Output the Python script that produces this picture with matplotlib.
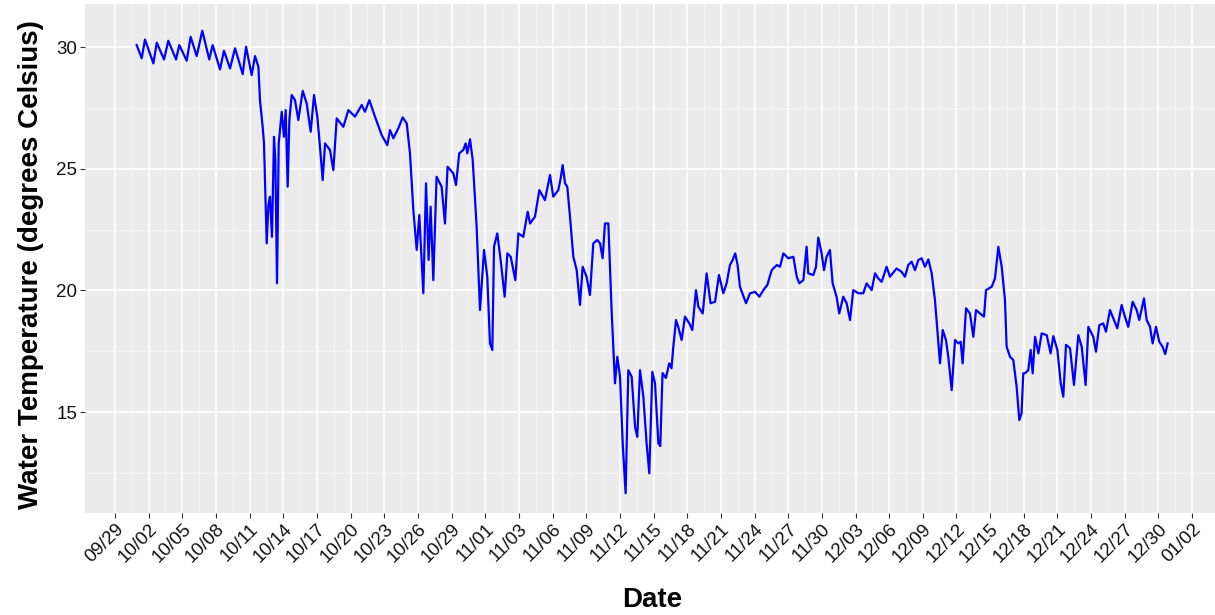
import matplotlib
matplotlib.use("Agg")
import matplotlib.pyplot as plt
import numpy as np

# Water temperature record: time in days after 09/29, temperature in degrees C
day = [
    1.93, 2.38, 2.67, 3.42, 3.72, 4.37, 4.75, 5.44, 5.73, 6.39, 6.74, 7.28, 7.78, 8.40,
    8.70, 9.36, 9.71, 10.25, 10.70, 11.38, 11.68, 12.18, 12.48, 12.78, 12.92, 13.16, 13.28,
    13.43, 13.52, 13.67, 13.81, 13.99, 14.17, 14.29, 14.44, 14.59, 14.86, 15.06, 15.21,
    15.39, 15.54, 15.75, 16.04, 16.34,
    16.73, 17.08, 17.44, 17.74, 18.03, 18.27, 18.51, 18.72, 19.16, 19.46, 19.76, 20.35,
    20.80, 21.39, 21.99, 22.28, 22.67, 23.17, 23.77, 24.27, 24.51, 24.81, 25.25, 25.64,
    26.00, 26.29, 26.59, 26.89, 27.12, 27.48, 27.72, 27.95, 28.13, 28.37, 28.66, 29.11,
    29.41, 29.64, 30.15, 30.39, 30.68, 31.04, 31.25, 31.40, 31.64, 31.88, 32.23,
    32.53, 32.89, 33.18, 33.42, 33.63, 33.78, 34.07, 34.37, 34.73, 34.97, 35.27, 35.50,
    35.68, 35.95, 36.39, 36.78, 36.99, 37.43, 37.82, 38.32, 38.77, 39.06, 39.51, 39.72,
    39.90, 40.11, 40.31, 40.55, 40.85, 41.15, 41.44, 41.68, 42.03, 42.33, 42.63, 42.98,
    43.23, 43.46, 43.67, 43.97, 44.26, 44.56, 44.77, 45.01, 45.25, 45.51, 45.75, 46.05,
    46.35, 46.55, 46.79, 47.09, 47.38, 47.62, 47.89, 48.13, 48.43, 48.60, 48.80, 49.10,
    49.40, 49.60,
    49.76, 50.00, 50.20, 50.50, 50.80, 51.19, 51.45, 51.78, 51.99, 52.38, 52.73, 53.08,
    53.48, 53.83, 54.22, 54.51, 54.81, 55.05, 55.28, 55.49, 55.70, 56.24, 56.60, 57.04,
    57.43, 57.79, 58.14, 58.53, 58.98, 59.27, 59.57, 60.01, 60.46, 60.76, 60.99, 61.35,
    61.64, 61.79, 62.24, 62.48, 62.68, 62.98, 63.19, 63.42, 63.72, 63.96, 64.31, 64.55,
    64.91, 65.21, 65.51, 65.80, 66.25,
    66.69, 66.99, 67.44, 67.74, 68.03, 68.33, 68.77, 69.07, 69.66, 70.11, 70.41, 70.70,
    71.00, 71.30, 71.60, 71.89, 72.19, 72.49, 72.79, 73.08, 73.32, 73.53, 73.77, 74.06,
    74.27, 74.57, 74.87, 75.16, 75.37, 75.55, 75.85, 76.20, 76.50, 76.74, 77.09, 77.45,
    77.63, 78.14, 78.43, 78.73, 79.03, 79.32, 79.47, 79.77, 80.06, 80.36, 80.60,
    80.80, 80.95, 81.10, 81.40, 81.61, 81.79, 82.00, 82.30, 82.59, 83.04, 83.39, 83.63,
    83.99, 84.29, 84.52, 84.76, 85.12, 85.47, 85.86, 86.16, 86.51, 86.75, 87.19, 87.43,
    87.73, 88.08, 88.32, 88.68, 88.97, 89.33, 89.72, 90.01, 90.31, 90.70, 91.06, 91.29,
    91.71, 91.95, 92.25, 92.48, 92.78, 93.07, 93.37, 93.60, 93.82,
]

temp = [
    30.08, 29.54, 30.31, 29.33, 30.18, 29.49, 30.26, 29.49, 30.08, 29.44, 30.42, 29.63, 30.67, 29.49,
    30.08, 29.08, 29.85, 29.12, 29.95, 28.89, 30.01, 28.85, 29.63, 29.19, 27.82, 26.72, 26.04,
    23.44, 21.93, 23.50, 23.85, 22.20, 26.31, 25.36, 20.29, 26.04, 27.34, 26.31, 27.41,
    24.26, 27.00, 28.03, 27.82, 27.00,
    28.20, 27.69, 26.52, 28.03, 27.14, 25.90, 24.53, 26.04, 25.77, 24.94, 27.07, 26.72,
    27.41, 27.14, 27.62, 27.34, 27.82, 27.14, 26.38, 25.97, 26.59, 26.25, 26.66, 27.11,
    26.86, 25.63, 23.30, 21.66, 23.10, 19.88, 24.40, 21.25, 23.44, 20.42, 24.67, 24.26,
    22.75, 25.08, 24.81, 24.33, 25.63, 25.77, 26.04, 25.63, 26.21, 25.36, 22.63,
    19.19, 21.66, 20.56, 17.82, 17.55, 21.79, 22.34, 21.25, 19.74, 21.52, 21.38, 20.83,
    20.42, 22.34, 22.20, 23.23, 22.75, 23.03, 24.12, 23.71, 24.74, 23.85, 24.12, 24.60,
    25.15, 24.40, 24.26, 23.03, 21.38, 20.83, 19.40, 20.97, 20.56, 19.81, 21.93, 22.07,
    21.93, 21.32, 22.75, 22.75, 19.19, 16.18, 17.27, 16.45, 13.71, 11.66, 16.72, 16.45,
    14.39, 13.98, 16.72, 15.63, 13.71, 12.48, 16.65, 16.18, 13.71, 13.60, 16.60, 16.40,
    17.00, 16.80,
    17.68, 18.78, 18.50, 17.96, 18.92, 18.64, 18.37, 20.01, 19.33, 19.05, 20.70, 19.47,
    19.53, 20.63, 19.88, 20.29, 21.04, 21.25, 21.52, 21.04, 20.15, 19.47, 19.88, 19.94,
    19.74, 20.01, 20.22, 20.83, 21.04, 20.97, 21.52, 21.32, 21.38, 20.56, 20.29, 20.42,
    21.79, 20.70, 20.63, 20.97, 22.17, 21.52, 20.83, 21.38, 21.66, 20.29, 19.74, 19.05,
    19.74, 19.47, 18.78, 20.01, 19.88,
    19.88, 20.29, 20.01, 20.70, 20.49, 20.35, 20.97, 20.56, 20.90, 20.76, 20.56, 21.04,
    21.18, 20.83, 21.25, 21.32, 20.97, 21.27, 20.70, 19.60, 18.23, 17.00, 18.37, 17.96,
    17.27, 15.90, 17.96, 17.82, 17.89, 17.00, 19.26, 19.05, 18.09, 19.19, 19.05, 18.92,
    20.01, 20.15, 20.49, 21.79, 20.97, 19.60, 17.68, 17.27, 17.14, 16.04, 14.67,
    14.94, 16.59, 16.59, 16.72, 17.55, 16.59, 18.09, 17.41, 18.23, 18.16, 17.41, 18.12,
    17.55, 16.18, 15.63, 17.76, 17.62, 16.11, 18.16, 17.68, 16.11, 18.50, 18.09, 17.48,
    18.57, 18.64, 18.30, 19.19, 18.85, 18.44, 19.40, 18.92, 18.50, 19.53, 19.19, 18.78,
    19.67, 18.78, 18.50, 17.82, 18.50, 17.89, 17.68, 17.38, 17.82,
]

# Date axis: a break every 3 days starting 09/29
tick_labels = [
    "09/29", "10/02", "10/05", "10/08", "10/11", "10/14", "10/17", "10/20", "10/23",
    "10/26", "10/29", "11/01", "11/03", "11/06", "11/09", "11/12", "11/15", "11/18",
    "11/21", "11/24", "11/27", "11/30", "12/03", "12/06", "12/09", "12/12", "12/15",
    "12/18", "12/21", "12/24", "12/27", "12/30", "01/02",
]
tick_days = np.arange(len(tick_labels)) * 3
y_ticks = [15, 20, 25, 30]

plt.rcParams["font.family"] = ["Liberation Sans", "DejaVu Sans"]

fig = plt.figure(figsize=(12.15, 6.15), dpi=100)
ax = fig.add_axes([0.070, 0.1659, 0.930, 0.8276])
ax.set_facecolor("#EBEBEB")

ax.plot(day, temp, color="#0000FF", lw=1.6, zorder=3)

ax.set_xlim(-2.67, 98.04)
ax.set_ylim(10.85, 31.77)

ax.set_xticks(tick_days)
ax.set_xticklabels(tick_labels, rotation=45, ha="right", va="top",
                   rotation_mode="anchor", fontsize=13.5, color="#111111")
ax.set_xticks(tick_days[:-1] + 1.5, minor=True)
ax.set_yticks(y_ticks)
ax.set_yticklabels([str(v) for v in y_ticks], fontsize=13.5, color="#111111")
ax.set_yticks([12.5, 17.5, 22.5, 27.5], minor=True)

ax.grid(which="major", color="white", lw=1.1, zorder=0)
ax.grid(which="minor", color="#F7F7F7", lw=0.55, zorder=0)
ax.set_axisbelow(True)

ax.tick_params(which="major", length=3.5, width=0.8, color="#333333", pad=2)
ax.tick_params(which="minor", length=0)
for s in ax.spines.values():
    s.set_visible(False)

fig.text(652 / 1215, 1 - 600 / 615, "Date", ha="center", va="center",
         fontsize=20, fontweight="bold")
fig.text(31 / 1215, 1 - 265 / 615, "Water Temperature (degrees Celsius)",
         ha="center", va="center", rotation=90, fontsize=20, fontweight="bold")

fig.savefig("out.png", dpi=100)
